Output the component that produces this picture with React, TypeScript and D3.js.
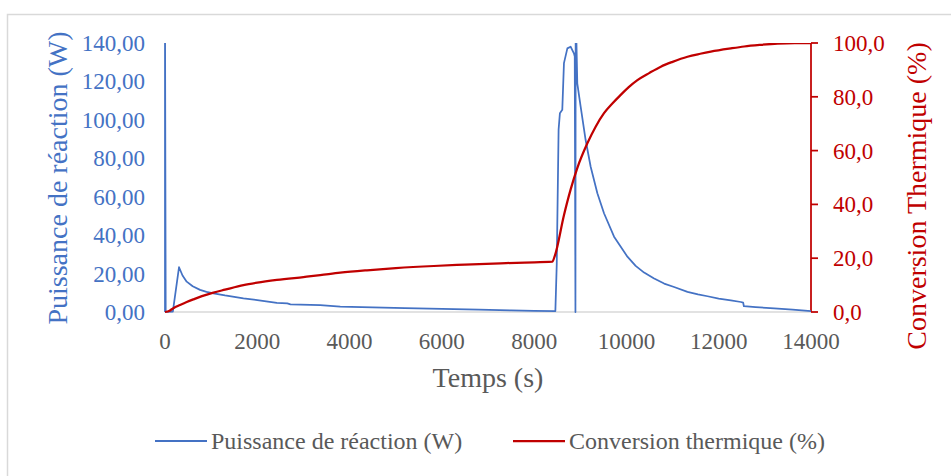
import React from "react";
import * as d3 from "d3";

const xTicks = [0, 2000, 4000, 6000, 8000, 10000, 12000, 14000];
const powerTicks = [0, 20, 40, 60, 80, 100, 120, 140];
const convTicks = [0, 20, 40, 60, 80, 100];

const powerTime = [0, 0, 15, 170, 304, 380, 470, 600, 760, 900, 1049, 1300, 1700, 2000, 2424, 2650, 2720, 3364, 3798, 4500, 5200, 6000, 6800, 7500, 8000, 8460, 8490, 8530, 8558, 8610, 8646, 8720, 8790, 8862, 8880, 8895, 8900, 8935, 9008, 9116, 9225, 9370, 9514, 9732, 10021, 10200, 10383, 10600, 10817, 11033, 11323, 11550, 11758, 12000, 12263, 12480, 12530, 12545, 12800, 13203, 13600, 14000];
const powerValue = [0, 160, 0, 0.2, 23.3, 19.0, 15.8, 13.4, 11.5, 10.5, 9.7, 8.6, 7.1, 6.2, 4.8, 4.5, 4.0, 3.6, 2.8, 2.4, 2.0, 1.6, 1.2, 0.8, 0.6, 0.5, 25, 95, 103.4, 105.2, 129.5, 137.2, 138.1, 134.6, 133, 0, 160, 119.0, 106.9, 89.5, 75.6, 61.8, 51.4, 39.2, 28.8, 24.0, 20.5, 17.4, 14.8, 13.0, 10.5, 9.2, 8.2, 7.0, 6.0, 5.2, 4.9, 3.0, 2.5, 1.9, 1.2, 0.5];

const convTime = [0, 100, 181, 326, 470, 615, 800, 1049, 1300, 1700, 2000, 2424, 3000, 3364, 3798, 4377, 5000, 5825, 6500, 7271, 7800, 8393, 8450, 8646, 8790, 8935, 9153, 9330, 9514, 9700, 9876, 10050, 10238, 10500, 10745, 11000, 11323, 11600, 11829, 12263, 12551, 12900, 13275, 13650, 14000];
const convValue = [0, 0.5, 1.4, 2.6, 3.7, 4.7, 5.9, 7.2, 8.3, 10.0, 10.9, 11.9, 13.0, 13.7, 14.6, 15.5, 16.3, 17.1, 17.6, 18.1, 18.4, 18.7, 21, 36.0, 45.5, 53.5, 62.7, 68.8, 73.9, 77.6, 80.7, 83.6, 86.2, 88.9, 91.2, 93.0, 94.9, 96.0, 96.8, 98.0, 98.7, 99.3, 99.8, 100, 100];

const BLUE = "#4472C4";
const RED = "#C00000";
const GREY = "#595959";
const FONT = "'Liberation Serif', 'Times New Roman', serif";

export default function App() {
  const x = d3.scaleLinear().domain([0, 14000]).range([165, 811]);
  const yL = d3.scaleLinear().domain([0, 140]).range([312, 43]);
  const yR = d3.scaleLinear().domain([0, 100]).range([312, 43]);

  const powerLine = d3
    .line<number>()
    .x((_, i) => x(powerTime[i]))
    .y((v) => yL(v))(powerValue) as string;
  const convLine = d3
    .line<number>()
    .x((_, i) => x(convTime[i]))
    .y((v) => yR(v))
    .curve(d3.curveMonotoneX)(convValue) as string;

  const fmtL = (v: number) => d3.format(".2f")(v).replace(".", ",");
  const fmtR = (v: number) => d3.format(".1f")(v).replace(".", ",");

  return (
    <svg
      width={951}
      height={476}
      style={{ position: "absolute", left: 0, top: 0, background: "#fff" }}
      fontFamily={FONT}
    >
      <defs>
        <clipPath id="plot">
          <rect x={150} y={43} width={680} height={300} />
        </clipPath>
      </defs>
      <rect x={7.5} y={14.5} width={960} height={480} fill="#fff" stroke="#D9D9D9" strokeWidth={1.5} />

      <line x1={x(0)} x2={x(14000)} y1={yL(0)} y2={yL(0)} stroke="#D9D9D9" strokeWidth={1.5} />

      {xTicks.map((t) => (
        <text key={t} x={x(t)} y={349} textAnchor="middle" fontSize={23} fill={GREY}>
          {t}
        </text>
      ))}
      <text x={x(7000)} y={387} textAnchor="middle" fontSize={28} fill={GREY}>
        Temps (s)
      </text>

      {powerTicks.map((t) => (
        <text key={t} x={145} y={yL(t)} dy="0.35em" textAnchor="end" fontSize={23} fill={BLUE}>
          {fmtL(t)}
        </text>
      ))}
      <text transform={`translate(67,178) rotate(-90)`} textAnchor="middle" fontSize={28} fill={BLUE}>
        Puissance de réaction (W)
      </text>

      <line x1={811} x2={811} y1={yR(0)} y2={yR(100)} stroke={RED} strokeWidth={1.75} />
      {convTicks.map((t) => (
        <g key={t}>
          <line x1={811} x2={818} y1={yR(t)} y2={yR(t)} stroke={RED} strokeWidth={1.75} />
          <text x={833} y={yR(t)} dy="0.35em" textAnchor="start" fontSize={23} fill={RED}>
            {fmtR(t)}
          </text>
        </g>
      ))}
      <text transform={`translate(926,196) rotate(-90)`} textAnchor="middle" fontSize={28} fill={RED}>
        Conversion Thermique (%)
      </text>

      <g clipPath="url(#plot)">
        <path d={powerLine} fill="none" stroke={BLUE} strokeWidth={1.75} strokeLinejoin="round" />
        <path d={convLine} fill="none" stroke={RED} strokeWidth={2.25} strokeLinejoin="round" />
      </g>

      <line x1={155} x2={207} y1={441} y2={441} stroke={BLUE} strokeWidth={2} />
      <text x={211} y={449} fontSize={24} fill={GREY}>
        Puissance de réaction (W)
      </text>
      <line x1={513} x2={565} y1={441} y2={441} stroke={RED} strokeWidth={2.25} />
      <text x={569} y={449} fontSize={24} fill={GREY}>
        Conversion thermique (%)
      </text>
    </svg>
  );
}
